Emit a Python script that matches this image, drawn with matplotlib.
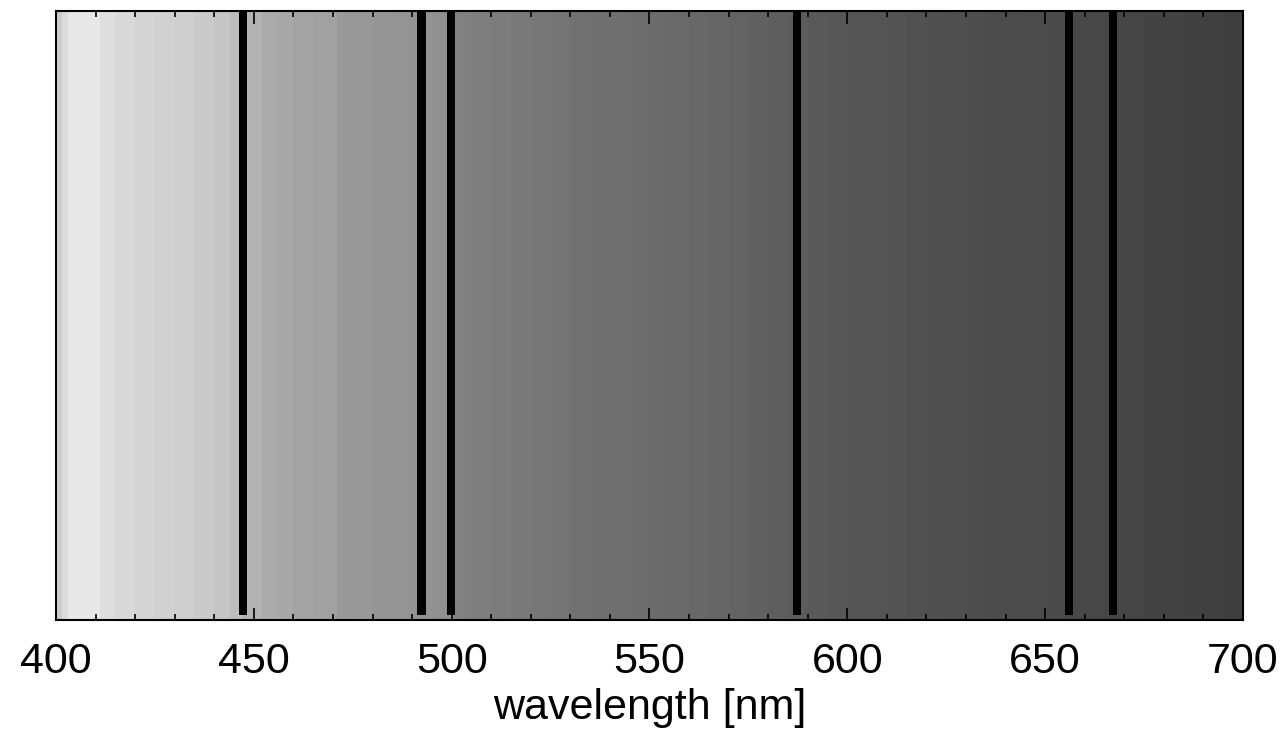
import numpy as np
import matplotlib
matplotlib.use("Agg")
import matplotlib.pyplot as plt

plt.rcParams['font.family'] = ['Liberation Sans', 'DejaVu Sans']

# Background spectrum: band edges [nm] and grey levels (0=black, 1=white)
band_edges = [400, 401.5, 403, 411, 415, 420, 425, 430, 435, 440, 444, 447,
              452, 456, 460, 465, 471, 475, 480, 485, 490, 495, 500.5,
              505, 510, 515, 520, 525, 530, 535, 540, 545, 550, 555, 560,
              565, 570, 575, 580, 585, 590, 595, 600, 605, 610, 615, 620,
              625, 630, 635, 640, 645, 650, 655, 660, 665, 670, 675, 680,
              685, 690, 695, 700]
band_grey = [0.80, 0.86, 0.91, 0.87, 0.85, 0.83, 0.82, 0.81, 0.79, 0.77,
             0.74, 0.70, 0.67, 0.66, 0.64, 0.63, 0.60, 0.595, 0.585, 0.58,
             0.575, 0.565, 0.505, 0.495, 0.485, 0.475, 0.465, 0.455, 0.445,
             0.44, 0.435, 0.43, 0.42, 0.415, 0.41, 0.40, 0.39, 0.38, 0.37,
             0.36, 0.35, 0.34, 0.335, 0.33, 0.325, 0.32, 0.315, 0.31, 0.305,
             0.30, 0.297, 0.293, 0.29, 0.285, 0.28, 0.275, 0.27, 0.265,
             0.26, 0.255, 0.25, 0.245]

# Dark spectral lines [nm]
line_centers = [447.2, 492.4, 499.9, 587.3, 656.0, 667.1]
line_width_nm = 2.1

x_ticks = [400, 450, 500, 550, 600, 650, 700]

fig = plt.figure(figsize=(12.87, 7.37), dpi=100)
ax = fig.add_axes([0.0435, 0.159, 0.9223, 0.826])

ax.pcolormesh(np.array(band_edges), np.array([0.0, 1.0]),
              np.array(band_grey)[np.newaxis, :],
              cmap='gray', vmin=0, vmax=1, shading='flat')

for c in line_centers:
    ax.axvspan(c - line_width_nm / 2, c + line_width_nm / 2,
               ymin=0.008, ymax=0.998, color='black', lw=0)

ax.set_xlim(400, 700)
ax.set_ylim(0, 1)
ax.set_yticks([])
ax.set_xticks(x_ticks)
ax.set_xticks(np.arange(400, 701, 10), minor=True)
ax.tick_params(axis='x', which='both', direction='in', top=True, bottom=True,
               labelsize=31, width=1.2, pad=16)
ax.tick_params(axis='x', which='major', length=9)
ax.tick_params(axis='x', which='minor', length=4.5)
for s in ax.spines.values():
    s.set_linewidth(1.5)
ax.set_xlabel('wavelength [nm]', fontsize=31, labelpad=4)

fig.savefig('out.png', dpi=100)
